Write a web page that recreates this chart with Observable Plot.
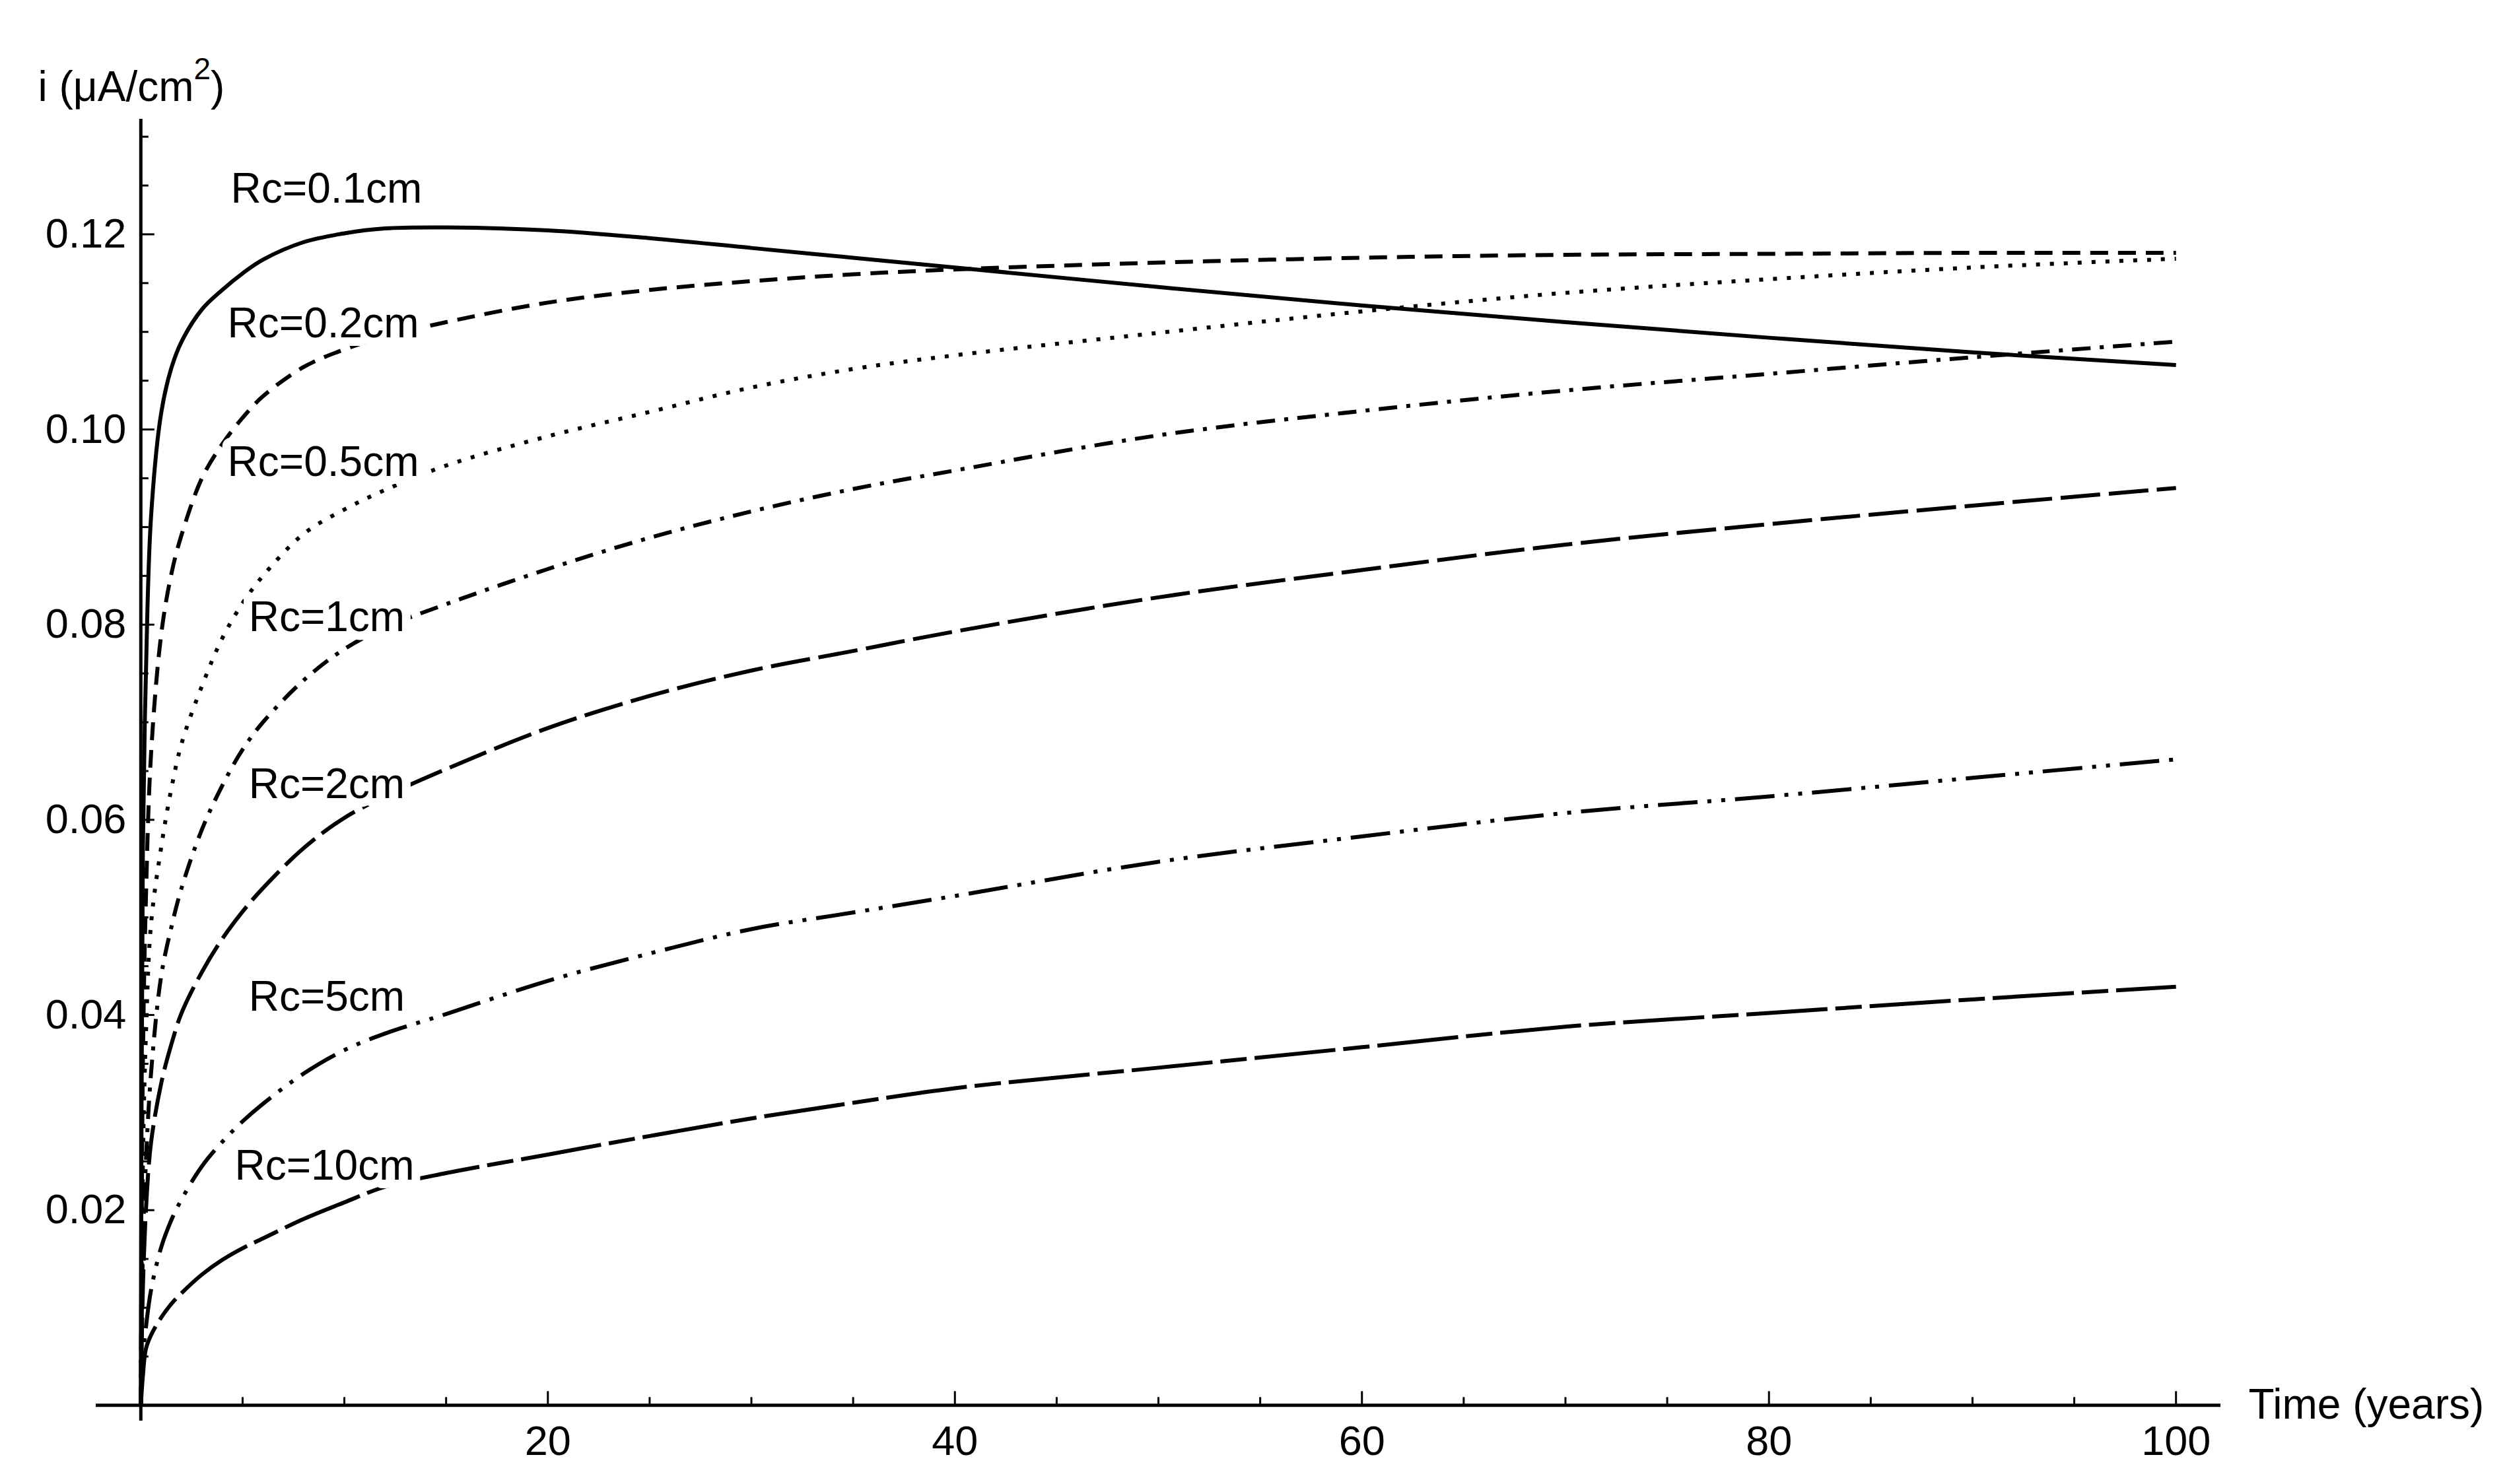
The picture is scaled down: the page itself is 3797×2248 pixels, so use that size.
<!DOCTYPE html>
<html>
<head>
<meta charset="utf-8">
<script src="https://cdn.jsdelivr.net/npm/d3@7"></script>
<script src="https://cdn.jsdelivr.net/npm/@observablehq/plot@0.6"></script>
<style>
html, body { margin: 0; padding: 0; background: #fff; }
</style>
</head>
<body>
<div id="chart"></div>
<script>
// ---- data ----
const years = [0, 0.1, 0.25, 0.5, 1, 1.5, 2, 3, 4, 5, 6, 8, 10, 12, 15, 20, 25, 30, 35, 40, 50, 60, 70, 80, 90, 100];

const rc01 = [0, 0.057, 0.075, 0.091, 0.1017, 0.1063, 0.1090, 0.1123, 0.1143, 0.1160, 0.1174, 0.1192, 0.1201, 0.1206, 0.1207, 0.1204, 0.1196, 0.1186, 0.1176, 0.1166, 0.1146, 0.1127, 0.1110, 0.1094, 0.1079, 0.1066];
const rc02 = [0, 0.035, 0.052, 0.0667, 0.0790, 0.0852, 0.0892, 0.0950, 0.0985, 0.1012, 0.1034, 0.1064, 0.1082, 0.1095, 0.1110, 0.1130, 0.1143, 0.1152, 0.1159, 0.1164, 0.1171, 0.1176, 0.1179, 0.1180, 0.1181, 0.1181];
const rc05 = [0, 0.025, 0.038, 0.0493, 0.0572, 0.0632, 0.0678, 0.0737, 0.0786, 0.0822, 0.0850, 0.0893, 0.0918, 0.0938, 0.0963, 0.0993, 0.1018, 0.1043, 0.1062, 0.1076, 0.1099, 0.1121, 0.1140, 0.1154, 0.1166, 0.1175];
const rc1  = [0, 0.016, 0.025, 0.034, 0.044, 0.049, 0.053, 0.059, 0.0635, 0.0672, 0.0700, 0.0743, 0.0775, 0.0797, 0.0821, 0.0857, 0.0889, 0.0916, 0.0939, 0.0958, 0.0994, 0.1019, 0.1040, 0.1057, 0.1074, 0.1090];
const rc2  = [0, 0.012, 0.020, 0.0269, 0.0330, 0.0370, 0.0402, 0.0444, 0.0478, 0.0506, 0.0530, 0.0571, 0.0602, 0.0624, 0.0652, 0.0694, 0.0727, 0.0753, 0.0773, 0.0793, 0.0828, 0.0856, 0.0882, 0.0903, 0.0922, 0.0940];
const rc5  = [0, 0.005, 0.008, 0.0118, 0.0162, 0.0190, 0.0211, 0.0245, 0.0270, 0.0291, 0.0309, 0.0340, 0.0364, 0.0381, 0.0401, 0.0435, 0.0463, 0.0488, 0.0505, 0.0522, 0.0557, 0.0583, 0.0607, 0.0624, 0.0643, 0.0662];
const rc10 = [0, 0.003, 0.0058, 0.0072, 0.0090, 0.0104, 0.0115, 0.0134, 0.0149, 0.0161, 0.0171, 0.0191, 0.0208, 0.0224, 0.0238, 0.0257, 0.0276, 0.0294, 0.0310, 0.0325, 0.0346, 0.0367, 0.0388, 0.0402, 0.0416, 0.0429];

const seriesNames = ["Rc=0.1cm", "Rc=0.2cm", "Rc=0.5cm", "Rc=1cm", "Rc=2cm", "Rc=5cm", "Rc=10cm"];
const seriesValues = [rc01, rc02, rc05, rc1, rc2, rc5, rc10];

// label anchor points (year, current density) of each curve label
const labelYears  = [4.42, 4.26, 4.26, 5.30, 5.30, 5.30, 4.61];
const labelValues = [0.1246, 0.1108, 0.0966, 0.0807, 0.0636, 0.0418, 0.0245];

const xMajorTicks = [20, 40, 60, 80, 100];
const xMinorTicks = [5, 10, 15, 25, 30, 35, 45, 50, 55, 65, 70, 75, 85, 90, 95];
const yMajorTicks = [0.02, 0.04, 0.06, 0.08, 0.10, 0.12];
const yMinorTicks = [0.005, 0.01, 0.015, 0.025, 0.03, 0.035, 0.045, 0.05, 0.055, 0.065, 0.07, 0.075, 0.085, 0.09, 0.095, 0.105, 0.11, 0.115, 0.125, 0.13];

const xTitle = "Time (years)";
const yTitleMain = "i (\u03BCA/cm";
const yTitleSup = "2";
const yTitleEnd = ")";

// ---- styles ----
const dashes = [null, "27,15", "6,15", "28,14,6,14", "60,13", "60,15,6,15,6,15", "123,12,40,12"];
const FONT = "'Liberation Sans', Arial, Helvetica, sans-serif";

const marks = [];

// curves
seriesValues.forEach((vals, i) => {
  const rows = years.map((t, j) => ({t, v: vals[j], s: seriesNames[i]}));
  const opts = {x: "t", y: "v", stroke: "#000", strokeWidth: 6, curve: "catmull-rom", strokeLinecap: "butt", strokeLinejoin: "round"};
  if (dashes[i]) opts.strokeDasharray = dashes[i];
  marks.push(Plot.line(rows, opts));
});

// axes lines through the origin
marks.push(Plot.ruleY([0], {stroke: "#000", strokeWidth: 5}));
marks.push(Plot.ruleX([0], {stroke: "#000", strokeWidth: 5}));

// inward ticks
marks.push(Plot.ruleX(xMinorTicks, {x: d => d, y1: 0, y2: 0, insetBottom: 12, stroke: "#000", strokeWidth: 3}));
marks.push(Plot.ruleX(xMajorTicks, {x: d => d, y1: 0, y2: 0, insetBottom: 21, stroke: "#000", strokeWidth: 3}));
marks.push(Plot.ruleY(yMinorTicks, {y: d => d, x1: 0, x2: 0, insetRight: -12, stroke: "#000", strokeWidth: 3}));
marks.push(Plot.ruleY(yMajorTicks, {y: d => d, x1: 0, x2: 0, insetRight: -21, stroke: "#000", strokeWidth: 3}));

// tick labels
marks.push(Plot.text(xMajorTicks, {x: d => d, y: 0, dy: 55, text: d => String(d), fontSize: 63, fill: "#000"}));
marks.push(Plot.text(yMajorTicks, {x: 0, y: d => d, dx: -22, textAnchor: "end", text: d => d.toFixed(2), fontSize: 63, fill: "#000"}));

// curve labels with white backing
const labelRows = seriesNames.map((name, i) => ({name, t: labelYears[i], v: labelValues[i]}));
marks.push(Plot.text(labelRows, {x: "t", y: "v", text: "name", textAnchor: "start", fontSize: 64, fill: "#000",
  stroke: "#fff", strokeWidth: 26, strokeLinejoin: "round", paintOrder: "stroke"}));

// axis titles
marks.push(Plot.text([xTitle], {frameAnchor: "right", y: 0, dx: 42, textAnchor: "start", text: d => d, fontSize: 64, fill: "#000"}));
marks.push(Plot.text([yTitleMain], {frameAnchor: "top-left", dx: -88, dy: -73, textAnchor: "start", text: d => d, fontSize: 64, fill: "#000", className: "ytitle"}));

const chart = Plot.plot({
  width: 3797,
  height: 2248,
  marginLeft: 145,
  marginRight: 434,
  marginTop: 180,
  marginBottom: 96,
  x: {domain: [-2.2, 102.2], axis: null},
  y: {domain: [-0.0016, 0.1318], axis: null},
  style: {fontFamily: FONT, fontSize: "64px", background: "#fff", color: "#000", overflow: "visible"},
  marks
});
document.getElementById("chart").appendChild(chart);

// superscript for the y-axis title
d3.select(chart).selectAll("g.ytitle text").each(function () {
  const t = d3.select(this);
  t.text(null);
  t.append("tspan").text(yTitleMain);
  t.append("tspan").attr("dy", -33).attr("font-size", 46).text(yTitleSup);
  t.append("tspan").attr("dy", 33).text(yTitleEnd);
});
</script>
</body>
</html>
